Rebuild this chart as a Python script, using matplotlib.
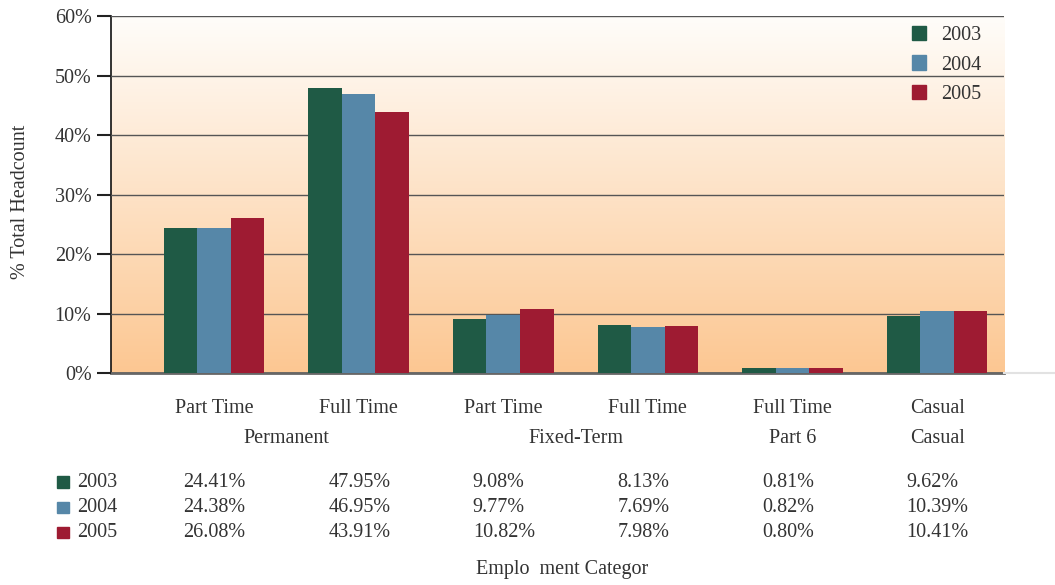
import numpy as np
import matplotlib
matplotlib.use("Agg")
import matplotlib.pyplot as plt
import matplotlib.transforms as mtransforms
from matplotlib.patches import Patch
from matplotlib.lines import Line2D
from matplotlib.colors import LinearSegmentedColormap

plt.rcParams['font.family'] = ['Liberation Serif', 'DejaVu Serif']

# data
subcats = ['Part Time', 'Full Time', 'Part Time', 'Full Time', 'Full Time', 'Casual']
years = ['2003', '2004', '2005']
v2003 = [24.41, 47.95, 9.08, 8.13, 0.81, 9.62]
v2004 = [24.38, 46.95, 9.77, 7.69, 0.82, 10.39]
v2005 = [26.08, 43.91, 10.82, 7.98, 0.80, 10.41]
groups = ['Permanent', 'Fixed-Term', 'Part 6', 'Casual']
group_span = [(0, 1), (2, 3), (4, 4), (5, 5)]
yticks = [0, 10, 20, 30, 40, 50, 60]

COLORS = ['#1F5A45', '#5687A8', '#9E1B32']
TXT = '#333333'
FS = 14.5

fig = plt.figure(figsize=(10.55, 5.85), dpi=100)
ax = fig.add_axes([0.1052, 0.3624, 0.8465, 0.6102])

x = np.arange(len(subcats))
w = 0.232
for i, vals in enumerate([v2003, v2004, v2005]):
    ax.bar(x + (i - 1) * w, vals, w, color=COLORS[i], zorder=3, label=years[i])

ax.set_xlim(-0.712, 5.463)
ax.set_ylim(0, 60)

# gradient background
cmap = LinearSegmentedColormap.from_list('peach', ['#FCC792', '#FFFDFA'])
grad = np.linspace(0, 1, 256).reshape(-1, 1)
ax.imshow(grad, extent=[0, 1, 0, 1], transform=ax.transAxes, cmap=cmap,
          aspect='auto', origin='lower', zorder=0)

ax.set_yticks(yticks)
ax.set_yticklabels([f'{t}%' for t in yticks], fontsize=FS, color=TXT)
ax.yaxis.grid(True, color='#555555', linewidth=1.0, zorder=1)
ax.set_axisbelow(False)
ax.tick_params(axis='y', length=10, width=1.5, color='#222222', pad=4)
ax.set_xticks([])
for s in ['top', 'right']:
    ax.spines[s].set_visible(False)
ax.spines['left'].set_color('#111111')
ax.spines['left'].set_linewidth(1.2)
ax.spines['bottom'].set_color('#666666')
ax.spines['bottom'].set_linewidth(2)

# faint continuation of the baseline to the right edge
fig.lines.append(Line2D([0.952, 1.0], [0.3624, 0.3624], transform=fig.transFigure,
                        color='#e2e2e2', linewidth=1.5))

fig.text(0.019, 0.655, '% Total Headcount', rotation=90, ha='center', va='center',
         fontsize=FS, color=TXT)

leg = ax.legend(handles=[Patch(color=c, label=y) for c, y in zip(COLORS, years)],
                loc='upper right', bbox_to_anchor=(0.995, 1.022), frameon=False,
                fontsize=FS, handlelength=0.7, handleheight=0.7,
                labelspacing=0.5, handletextpad=0.75)
for t in leg.get_texts():
    t.set_color(TXT)

# category labels and table under the axes
tr = mtransforms.blended_transform_factory(ax.transData, fig.transFigure)
for xi, lab in zip(x, subcats):
    fig.text(xi, 0.302, lab, transform=tr, ha='center', va='center', fontsize=FS, color=TXT)
for lab, (a, b) in zip(groups, group_span):
    fig.text((a + b) / 2, 0.250, lab, transform=tr, ha='center', va='center',
             fontsize=FS, color=TXT)

row_y = [0.176, 0.132, 0.089]
for vals, c, y, yy in zip([v2003, v2004, v2005], COLORS, years, row_y):
    fig.patches.append(plt.Rectangle((0.0545, yy - 0.0095), 0.0105, 0.019, color=c,
                                     transform=fig.transFigure, figure=fig))
    fig.text(0.073, yy, y, ha='left', va='center', fontsize=FS, color=TXT)
    for xi, v in zip(x, vals):
        fig.text(xi - 0.21, yy, f'{v:.2f}%', transform=tr, ha='left', va='center',
                 fontsize=FS, color=TXT)

fig.text(0.533, 0.026, 'Emplo  ment Categor', ha='center', va='center', fontsize=FS, color=TXT)

fig.savefig('out.png', dpi=100, facecolor='white')
